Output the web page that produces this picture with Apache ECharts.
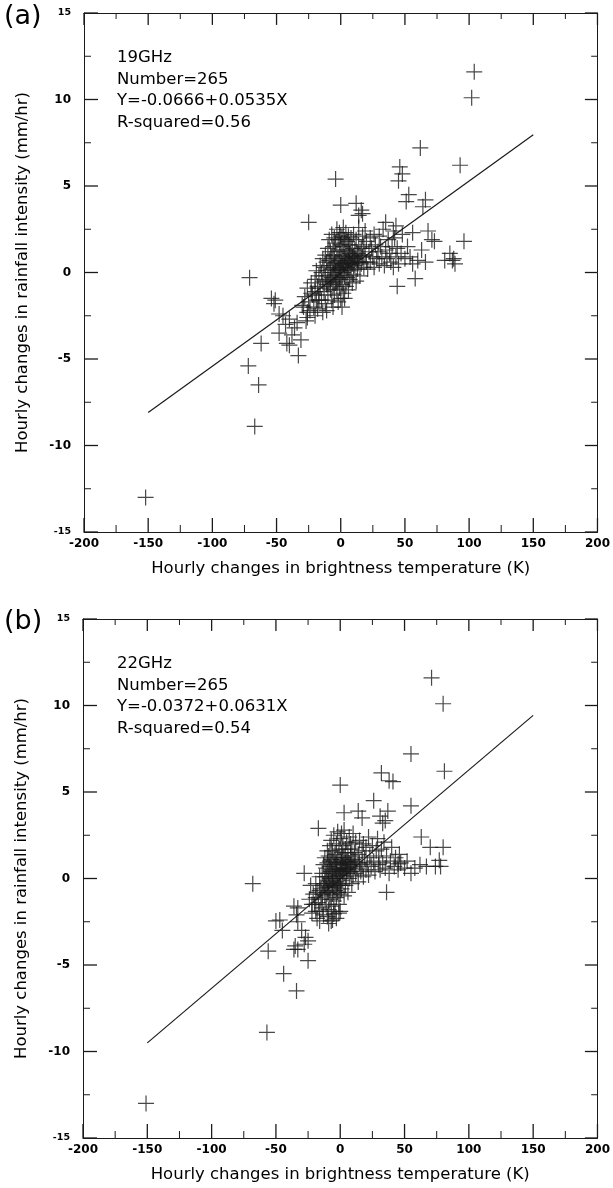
<!DOCTYPE html>
<html>
<head>
<meta charset="utf-8">
<script src="https://cdn.jsdelivr.net/npm/echarts@6/dist/echarts.min.js"></script>
<style>
  html, body { margin: 0; padding: 0; background: #fff; }
  #chart { width: 613px; height: 1188px; }
</style>
</head>
<body>
<div id="chart"></div>
<script>
'use strict';
/* hourly changes: rainfall vs brightness temperature, 19GHz and 22GHz */

var xTicks = [-200, -150, -100, -50, 0, 50, 100, 150, 200];
var yTicks = [-15, -10, -5, 0, 5, 10, 15];

// panel (a) 19GHz
var infoA = ['19GHz', 'Number=265', 'Y=-0.0666+0.0535X', 'R-squared=0.56'];
var fitA = [-0.0666, 0.0535];
var fitRangeA = [-150, 150];
var pointsA = [
  [104,11.6],[102,10.1],[62,7.2],[93,6.2],[-4,5.4],[46,6.1],[48,5.7],[45,5.3],[0,3.9],[12,4.0],
  [16,3.6],[17,3.4],[14,3.3],[53,4.5],[51,4.1],[64,3.8],[66,4.2],[-25,2.9],[44,-0.8],[96,1.8],
  [85,1.1],[87,0.7],[81,0.7],[88,0.8],[89,0.5],[-71,-0.3],[58,-0.35],[68,2.4],[71,1.9],[73,1.8],
  [35,2.9],[41,2.4],[43,2.7],[56,0.5],[56,2.3],[-152,-13],[-67,-8.9],[-64,-6.5],[-72,-5.4],[-62,-4.1],
  [-33,-4.8],[-42,-4.1],[-40,-4.2],[-31,-3.9],[-48,-3.5],[-43,-3.0],[-40,-2.7],[-54,-1.5],[-51,-1.6],[-52,-1.8],
  [-48,-2.4],[-45,-2.5],[-26,-2.3],[-26,-2.6],[-29,-2.0],[1,-2.0],[-11,-2.2],[-2,-1.7],[-23,-1.2],[-17,-1.6],
  [-30,-1.9],[-28,-1.4],[-27,-2.8],[-26,-0.9],[-25,-1.7],[-24,-2.2],[-23,-0.6],[-22,-1.3],[-21,-2.0],[-20,-0.4],
  [-20,-1.1],[-19,-1.6],[-19,0.1],[-18,-0.8],[-18,-2.1],[-17,-0.2],[-17,-1.3],[-16,0.4],[-16,-0.9],[-15,-1.6],
  [-15,0.0],[-14,-0.5],[-14,0.8],[-13,-1.1],[-13,0.3],[-12,-0.2],[-12,1.0],[-12,-1.8],[-11,0.6],[-11,-0.7],
  [-10,1.4],[-10,0.1],[-10,-1.3],[-9,-0.5],[-9,0.7],[-9,1.9],[-8,-1.0],[-8,0.2],[-8,1.2],[-7,-0.3],
  [-7,0.9],[-7,-1.6],[-7,2.2],[-6,0.4],[-6,-0.8],[-6,1.5],[-5,-0.1],[-5,1.0],[-5,-1.3],[-5,2.0],
  [-4,0.6],[-4,-0.6],[-4,1.7],[-3,0.2],[-3,1.2],[-3,-1.0],[-3,2.5],[-2,0.8],[-2,-0.4],[-2,1.9],
  [-1,0.3],[-1,1.3],[-1,-0.9],[-1,2.3],[0,0.7],[0,-0.3],[0,1.6],[0,-1.5],[0,2.1],[1,0.1],
  [1,1.0],[1,2.0],[1,-0.7],[2,0.5],[2,1.5],[2,-1.2],[2,2.6],[3,0.9],[3,-0.2],[3,1.9],
  [4,0.3],[4,1.3],[4,-0.8],[4,2.3],[5,0.8],[5,1.8],[5,-0.3],[6,0.2],[6,1.2],[6,2.1],
  [6,-1.0],[7,0.6],[7,1.6],[7,-0.4],[8,1.0],[8,0.1],[8,2.0],[9,0.5],[9,1.4],[9,-0.6],
  [10,0.9],[10,2.2],[10,-0.1],[11,0.4],[11,1.3],[12,0.8],[12,1.9],[12,-0.5],[13,0.2],[13,1.1],
  [14,0.6],[14,1.6],[14,2.6],[15,1.0],[15,-0.2],[16,0.5],[16,1.4],[17,2.1],[17,0.9],[18,0.3],
  [18,1.5],[19,1.0],[19,2.4],[20,0.6],[20,1.8],[21,0.2],[22,1.2],[23,2.0],[23,0.6],[24,1.4],
  [25,0.9],[26,2.2],[26,0.3],[27,1.6],[28,0.8],[29,1.2],[30,2.1],[30,0.5],[31,1.5],[32,0.9],
  [33,2.5],[34,0.4],[35,1.3],[36,0.8],[37,1.9],[38,1.1],[39,0.6],[40,1.5],[41,0.3],[42,2.0],
  [43,0.9],[44,1.4],[45,0.5],[47,1.1],[48,2.2],[50,0.8],[52,1.5],[54,0.9],[60,0.7],[63,1.3],
  [66,0.6],[-6,0.0],[-4,0.1],[-2,0.2],[0,0.3],[2,0.0],[4,0.6],[6,0.7],[8,0.5],[-3,-0.5],
  [-1,-0.2],[1,0.5],[3,0.4],[5,0.3],[7,1.1],[9,0.9],[-5,0.5],[-8,-0.4],[11,0.8],[13,0.6],
  [-10,-0.6],[-36,-3.2],[-38,-3.6],[-34,-2.9],[-14,-2.3],[-6,-2.0],[3,-1.5],[-20,-2.5]
];

// panel (b) 22GHz
var infoB = ['22GHz', 'Number=265', 'Y=-0.0372+0.0631X', 'R-squared=0.54'];
var fitB = [-0.0372, 0.0631];
var fitRangeB = [-150, 150];
var pointsB = [
  [71,11.6],[80,10.1],[55,7.2],[81,6.2],[32,6.1],[38,5.65],[41,5.6],[0,5.4],[26,4.5],[55,4.2],
  [3,3.8],[14,3.9],[17,3.5],[31,3.6],[35,3.35],[37,3.9],[33,3.2],[-17,2.9],[63,2.4],[70,1.8],
  [80,1.8],[77,1.05],[74,0.7],[78,0.7],[55,0.3],[67,0.7],[45,0.85],[46,1.4],[-68,-0.3],[-28,0.3],
  [-151,-13],[-57,-8.9],[-34,-6.5],[-44,-5.5],[-56,-4.2],[-36,-4.1],[-33,-4.1],[-35,-3.9],[-25,-4.75],[-25,-3.6],
  [-27,-3.4],[-28,-3.8],[-50,-2.45],[-45,-3.0],[-36,-1.6],[-33,-1.7],[-34,-2.1],[-33,-2.5],[-22,-1.5],[-19,-1.9],
  [-16,-2.45],[-7,-2.45],[-5,-2.05],[36,-0.8],[-16,-0.7],[-19,-1.1],[-30,-3.0],[-47,-2.4],
  [-24,-1.2],[-23,-0.4],[-22,-2.0],[-21,-0.9],[-20,-1.5],[-19,-0.3],[-18,-2.3],[-18,-0.8],[-17,-1.4],[-16,0.1],
  [-16,-1.9],[-15,-0.6],[-15,-1.2],[-14,0.3],[-14,-1.7],[-14,-0.9],[-13,0.8],[-13,-0.3],[-13,-2.1],[-12,-1.0],
  [-12,0.1],[-12,1.2],[-11,-0.5],[-11,-1.5],[-11,0.6],[-10,1.6],[-10,-0.1],[-10,-2.2],[-10,0.9],[-9,-0.8],
  [-9,0.3],[-9,1.3],[-9,-1.8],[-8,0.0],[-8,1.9],[-8,-1.2],[-8,0.7],[-7,-0.4],[-7,1.1],[-7,2.2],
  [-7,-1.6],[-6,0.5],[-6,-0.9],[-6,1.6],[-6,-2.4],[-5,0.0],[-5,1.0],[-5,-1.3],[-5,2.5],[-4,0.4],
  [-4,-0.7],[-4,1.4],[-4,-1.9],[-3,0.9],[-3,-0.2],[-3,2.0],[-3,-1.1],[-2,0.2],[-2,1.2],[-2,-0.8],
  [-2,2.7],[-1,0.6],[-1,-0.4],[-1,1.7],[-1,-1.5],[0,0.0],[0,1.1],[0,-0.9],[0,2.3],[0,-1.9],
  [1,0.4],[1,1.5],[1,-0.6],[1,2.6],[2,0.8],[2,-0.1],[2,1.9],[3,0.3],[3,1.2],[3,-1.0],
  [3,2.8],[4,0.6],[4,1.7],[4,-0.4],[5,1.0],[5,0.1],[5,2.1],[6,0.5],[6,1.5],[6,-0.8],
  [7,0.9],[7,2.4],[7,0.0],[8,1.3],[8,0.4],[8,2.0],[9,0.8],[9,-0.3],[9,1.7],[10,0.2],
  [10,1.1],[10,2.6],[11,0.7],[11,1.5],[12,0.3],[12,2.1],[12,1.0],[13,0.6],[14,1.4],[14,-0.2],
  [15,0.9],[15,2.2],[16,0.4],[17,1.6],[17,0.8],[18,0.1],[18,2.0],[19,1.2],[20,0.5],[20,1.8],
  [21,0.9],[22,2.4],[22,0.2],[23,1.3],[24,0.7],[25,1.9],[26,1.0],[27,0.4],[28,1.6],[29,2.3],
  [30,0.8],[30,1.2],[31,0.5],[32,1.7],[33,0.9],[34,2.1],[35,0.6],[36,1.3],[38,0.3],[39,1.0],
  [40,1.8],[42,0.7],[43,1.2],[45,0.5],[47,0.9],[50,0.6],[52,1.0],[58,0.6],[62,0.8],
  [-8,-0.5],[-6,0.1],[-4,0.0],[-2,-0.3],[0,0.5],[2,0.4],[4,0.9],[-7,0.4],[-5,-0.5],[-3,0.5],
  [-1,0.2],[1,0.9],[3,0.6],[-9,-0.2],[-11,0.1],[-10,-0.8],[6,1.0],[8,0.8],[-12,-0.4],[-6,-0.3],
  [0,-0.4],[-4,0.8],[2,1.2],[-8,1.0],[5,0.5],[-3,-2.3],[-1,-2.0],[-9,-2.6]
];

var crossSymbol = 'path://M10,0 L10,20 M0,10 L20,10';
var ink = '#1a1a1a';
var font = 'DejaVu Sans';

function fitLine(fit, range) {
  return range.map(function(x) { return [x, fit[0] + fit[1] * x]; });
}

// frame ticks as [kind (0 = x, 1 = y), value, length]; long at labelled values, short halfway
function frameTicks() {
  var out = [];
  [xTicks, yTicks].forEach(function(ticks, kind) {
    for (var i = 0; i < ticks.length; i++) {
      out.push([kind, ticks[i], 14]);
      if (i < ticks.length - 1) out.push([kind, (ticks[i] + ticks[i + 1]) / 2, 7]);
    }
  });
  return out;
}

// inward ticks on all four sides as thin filled bars, placed through the axes' own scales
function renderTicks(params, api) {
  var cs = params.coordSys;
  var kind = api.value(0), v = api.value(1), len = api.value(2);
  var st = { fill: ink, stroke: null };
  var w = len > 10 ? 1.3 : 1;
  if (kind === 0) {
    var px = api.coord([v, yTicks[0]])[0] - w / 2;
    return { type: 'group', children: [
      { type: 'rect', shape: { x: px, y: cs.y + cs.height - len, width: w, height: len }, style: st },
      { type: 'rect', shape: { x: px, y: cs.y, width: w, height: len * 0.85 }, style: st }
    ] };
  }
  var py = api.coord([xTicks[0], v])[1] - w / 2;
  return { type: 'group', children: [
    { type: 'rect', shape: { x: cs.x, y: py, width: len, height: w }, style: st },
    { type: 'rect', shape: { x: cs.x + cs.width - len * 0.9, y: py, width: len * 0.9, height: w }, style: st }
  ] };
}

function frameAxis(gi, pos, ticks, step) {
  return {
    gridIndex: gi, type: 'value', min: ticks[0], max: ticks[ticks.length - 1], interval: step, position: pos,
    axisLine: { show: true, onZero: false, lineStyle: { color: ink, width: 1 } },
    axisTick: { show: false },
    splitLine: { show: false },
    splitArea: { show: false },
    axisLabel: { show: false }
  };
}

function axisPair(gi) {
  var xb = frameAxis(gi, 'bottom', xTicks, 50);
  xb.axisLabel = { show: true, margin: 6, color: '#000', fontFamily: font, fontSize: 12, fontWeight: 'bold' };
  xb.name = 'Hourly changes in brightness temperature (K)';
  xb.nameLocation = 'middle';
  xb.nameGap = 28;
  xb.nameTextStyle = { color: '#000', fontFamily: font, fontSize: 16.5 };

  var yl = frameAxis(gi, 'left', yTicks, 5);
  yl.axisLabel = {
    show: true, margin: 13, color: '#000', fontFamily: font, fontSize: 12, fontWeight: 'bold',
    formatter: function(v) { return Math.abs(v) === 15 ? '{s|' + v + '}' : String(v); },
    rich: { s: { fontSize: 9.5, fontFamily: font, fontWeight: 'bold', color: '#000' } }
  };
  yl.name = 'Hourly changes in rainfall intensity (mm/hr)';
  yl.nameLocation = 'middle';
  yl.nameGap = 53;
  yl.nameTextStyle = { color: '#000', fontFamily: font, fontSize: 16.5 };
  return {
    x: [xb, frameAxis(gi, 'top', xTicks, 50)],
    y: [yl, frameAxis(gi, 'right', yTicks, 5)]
  };
}

var axA = axisPair(0);
var axB = axisPair(1);

function infoText(lines, top) {
  return {
    type: 'text', left: 117, top: top, silent: true,
    style: { text: lines.join('\n'), fill: '#000', font: '16.5px "' + font + '"', lineHeight: 21.5 }
  };
}

function panelSeries(axisIndex, points, fit, range) {
  return [{
    type: 'scatter', xAxisIndex: axisIndex, yAxisIndex: axisIndex, data: points,
    symbol: crossSymbol, symbolSize: 16, silent: true,
    itemStyle: { color: 'none', borderColor: ink, borderWidth: 1.2 }
  }, {
    type: 'line', xAxisIndex: axisIndex, yAxisIndex: axisIndex, data: fitLine(fit, range),
    symbol: 'none', silent: true, lineStyle: { color: ink, width: 1.2 }
  }, {
    type: 'custom', xAxisIndex: axisIndex, yAxisIndex: axisIndex, data: frameTicks(),
    renderItem: renderTicks, silent: true, clip: false, z: 10
  }];
}

var chart = echarts.init(document.getElementById('chart'));
chart.setOption({
  animation: false,
  backgroundColor: '#fff',
  grid: [
    { left: 84, top: 13, width: 515, height: 519 },
    { left: 83, top: 619, width: 516, height: 519 }
  ],
  xAxis: axA.x.concat(axB.x),
  yAxis: axA.y.concat(axB.y),
  graphic: [
    { type: 'text', left: 4, top: 3, style: { text: '(a)', fill: '#000', font: '27px "' + font + '"' } },
    { type: 'text', left: 4, top: 608, style: { text: '(b)', fill: '#000', font: '27px "' + font + '"' } },
    infoText(infoA, 47),
    infoText(infoB, 653)
  ],
  series: panelSeries(0, pointsA, fitA, fitRangeA).concat(panelSeries(2, pointsB, fitB, fitRangeB))
});
</script>
</body>
</html>
